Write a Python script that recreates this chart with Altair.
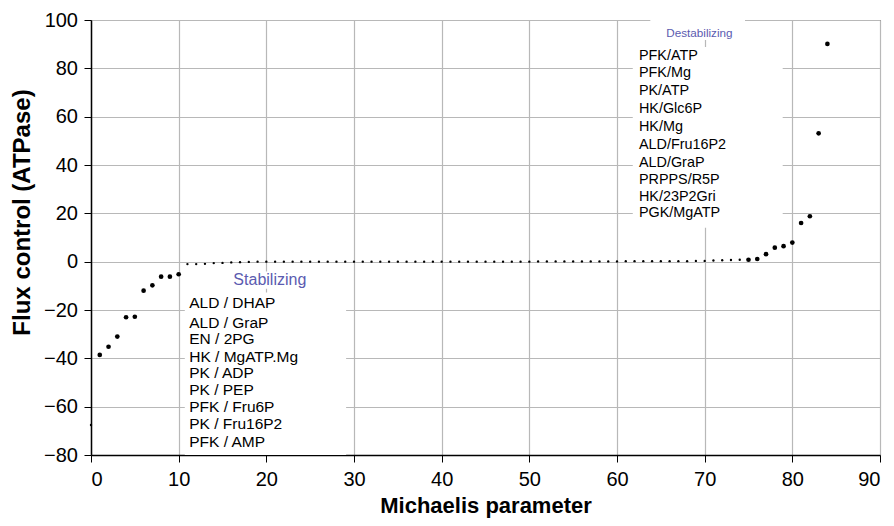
import altair as alt
import pandas as pd

# ---- data ----
major_x = [1, 2, 3, 4, 5, 6, 7, 8, 9, 10,
           75, 76, 77, 78, 79, 80, 81, 82, 83, 84]
major_y = [-38.6, -35.2, -31.0, -23.0, -22.8, -12.0, -9.8, -6.2, -6.2, -5.2,
           0.8, 1.1, 3.1, 5.8, 6.4, 7.9, 16.0, 18.8, 53.1, 90.1]

minor_x = [0, 11, 12, 13, 14, 15, 16, 17, 18, 19, 20,
           21, 22, 23, 24, 25, 26, 27, 28, 29, 30,
           31, 32, 33, 34, 35, 36, 37, 38, 39, 40,
           41, 42, 43, 44, 45, 46, 47, 48, 49, 50,
           51, 52, 53, 54, 55, 56, 57, 58, 59, 60,
           61, 62, 63, 64, 65, 66, 67, 68, 69, 70,
           71, 72, 73, 74]
minor_y = [-67.6, -1.0, -1.0, -0.9, -0.6, -0.5, -0.3, -0.2, -0.1, 0.0, 0.0,
           0.0, 0.0, 0.0, 0.0, 0.0, 0.0, 0.0, 0.0, 0.0, 0.0,
           0.0, 0.0, 0.0, 0.0, 0.0, 0.0, 0.0, 0.0, 0.0, 0.0,
           0.0, 0.0, 0.0, 0.0, 0.0, 0.0, 0.0, 0.0, 0.0, 0.0,
           0.1, 0.1, 0.1, 0.1, 0.1, 0.1, 0.1, 0.1, 0.1, 0.1,
           0.2, 0.2, 0.2, 0.2, 0.2, 0.2, 0.2, 0.2, 0.3, 0.3,
           0.5, 0.6, 0.7, 0.8]

stab_title = "Stabilizing"
stab_labels = ["ALD / DHAP", "ALD / GraP", "EN / 2PG", "HK / MgATP.Mg", "PK / ADP",
               "PK / PEP", "PFK / Fru6P", "PK / Fru16P2", "PFK / AMP"]
stab_label_y = [-17.0, -25.5, -32.0, -39.3, -46.2, -53.1, -60.0, -67.3, -74.5]

destab_title = "Destabilizing"
destab_labels = ["PFK/ATP", "PFK/Mg", "PK/ATP", "HK/Glc6P", "HK/Mg", "ALD/Fru16P2",
                 "ALD/GraP", "PRPPS/R5P", "HK/23P2Gri", "PGK/MgATP"]
destab_label_y = [85.2, 78.0, 70.6, 63.2, 55.9, 48.3, 41.0, 33.8, 26.9, 20.0]

x_ticks = [0, 10, 20, 30, 40, 50, 60, 70, 80, 90]
y_ticks = [-80, -60, -40, -20, 0, 20, 40, 60, 80, 100]

# ---- tables ----
major = pd.DataFrame({"x": major_x, "y": major_y})
minor = pd.DataFrame({"x": minor_x, "y": minor_y})
stab = pd.DataFrame({"label": stab_labels, "y": stab_label_y, "x": [11.2] * len(stab_labels)})
destab = pd.DataFrame({"label": destab_labels, "y": destab_label_y, "x": [62.5] * len(destab_labels)})
titles_s = pd.DataFrame({"label": [stab_title], "x": [20.4], "y": [-7.6]})
titles_d = pd.DataFrame({"label": [destab_title], "x": [69.4], "y": [94.5]})
boxes = pd.DataFrame({
    "x1": [10.7, 15.3, 61.8, 63.8],
    "x2": [29.1, 25.5, 78.9, 74.6],
    "y1": [-12.8, -4.1, 88.8, 100.0],
    "y2": [-80.0, -11.2, 14.0, 91.7],
})

FONT = "Liberation Sans"

xscale = alt.Scale(domain=[0, 90], nice=False, zero=False)
yscale = alt.Scale(domain=[-80, 100], nice=False, zero=False)

x_axis = alt.Axis(
    values=x_ticks, title="Michaelis parameter", grid=True,
    titleX=394.5, titleY=50, titleBaseline="middle", titleAlign="center",
    titleFontSize=22,
)
y_axis = alt.Axis(
    values=y_ticks, title="Flux control (ATPase)", grid=True,
    titleX=-68.5, titleY=192, titleBaseline="middle", titleAlign="center", titleAngle=-90,
    titleFontSize=24,
)

base_points = alt.Chart(major).mark_circle(color="black", opacity=1, size=22).encode(
    x=alt.X("x:Q", scale=xscale, axis=x_axis),
    y=alt.Y("y:Q", scale=yscale, axis=y_axis),
)
small_points = alt.Chart(minor).mark_circle(color="black", opacity=1, size=5.5).encode(
    x=alt.X("x:Q", scale=xscale),
    y=alt.Y("y:Q", scale=yscale),
)

rects = alt.Chart(boxes).mark_rect(color="white", opacity=1).encode(
    x=alt.X("x1:Q", scale=xscale), x2="x2:Q",
    y=alt.Y("y1:Q", scale=yscale), y2="y2:Q",
)

stab_text = alt.Chart(stab).mark_text(align="left", baseline="middle", font=FONT, fontSize=15.5, color="black").encode(
    x=alt.X("x:Q", scale=xscale), y=alt.Y("y:Q", scale=yscale), text="label:N")
destab_text = alt.Chart(destab).mark_text(align="left", baseline="middle", font=FONT, fontSize=14.4, color="black").encode(
    x=alt.X("x:Q", scale=xscale), y=alt.Y("y:Q", scale=yscale), text="label:N")
stab_title_text = alt.Chart(titles_s).mark_text(align="center", baseline="middle", font=FONT, fontSize=16, color="#5b5bb0").encode(
    x=alt.X("x:Q", scale=xscale), y=alt.Y("y:Q", scale=yscale), text="label:N")
destab_title_text = alt.Chart(titles_d).mark_text(align="center", baseline="middle", font=FONT, fontSize=11.7, color="#5b5bb0").encode(
    x=alt.X("x:Q", scale=xscale), y=alt.Y("y:Q", scale=yscale), text="label:N")

chart = alt.layer(rects, base_points, small_points, stab_text, destab_text,
                  stab_title_text, destab_title_text).properties(
    width=789, height=435,
    autosize=alt.AutoSizeParams(type="none"),
    padding={"left": 83, "top": 12, "right": 6, "bottom": 63},
).configure_view(
    stroke="#333333", strokeWidth=1,
).configure_axis(
    labelFont=FONT, labelFontSize=20, labelColor="black",
    titleFont=FONT, titleFontWeight="bold", titleColor="black",
    domainColor="black", domainWidth=1.5,
    tickColor="black", tickSize=7, tickWidth=1,
    gridColor="#b8b8b8", gridWidth=1.2,
).configure_axisY(
    labelPadding=6.5,
).configure_axisX(
    labelPadding=7,
)

chart.save("out.html", embed_options={"renderer": "svg", "actions": False})
